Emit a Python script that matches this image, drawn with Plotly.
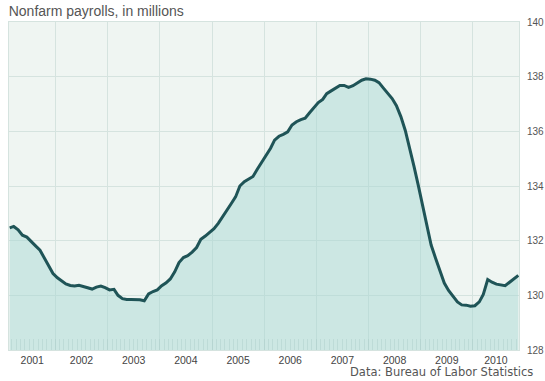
import pandas as pd
import plotly.graph_objects as go

# Nonfarm payrolls (millions), monthly, Feb 2001 - Nov 2010
payrolls = [
    132.47, 132.52, 132.40, 132.20, 132.13, 131.96, 131.81, 131.65, 131.38, 131.08, 130.80,
    130.64, 130.51, 130.42, 130.36, 130.34, 130.37, 130.32, 130.27, 130.23, 130.30, 130.34, 130.28,
    130.20, 130.22, 130.00, 129.88, 129.85, 129.85, 129.85, 129.84, 129.80, 130.05, 130.14, 130.20,
    130.35, 130.46, 130.60, 130.86, 131.20, 131.38, 131.45, 131.58, 131.75, 132.05, 132.17, 132.30,
    132.44, 132.64, 132.85, 133.12, 133.35, 133.60, 134.00, 134.16, 134.25, 134.35, 134.62, 134.86,
    135.11, 135.38, 135.68, 135.82, 135.89, 135.98, 136.23, 136.35, 136.43, 136.48, 136.68, 136.88,
    137.05, 137.17, 137.38, 137.48, 137.59, 137.68, 137.68, 137.61, 137.67, 137.77, 137.87, 137.92,
    137.91, 137.87, 137.78, 137.58, 137.40, 137.20, 136.94, 136.54, 136.03, 135.42, 134.72, 134.02,
    133.28, 132.53, 131.84, 131.36, 130.91, 130.45, 130.18, 129.99, 129.76, 129.65, 129.64, 129.60,
    129.62, 129.76, 130.03, 130.58, 130.48, 130.41, 130.38, 130.35, 130.48, 130.62, 130.73,
]
months = pd.date_range("2001-02-01", periods=len(payrolls), freq="MS") + pd.Timedelta(days=14)
years = list(range(2001, 2011))
year_labels = [str(y) for y in years]
y_ticks = [128, 130, 132, 134, 136, 138, 140]

x_start = pd.Timestamp("2001-02-10")
x_end = pd.Timestamp("2010-11-20")

# label positions: centre of visible part of each year
label_pos = []
for y in years:
    a = max(pd.Timestamp(f"{y}-01-01"), x_start)
    b = min(pd.Timestamp(f"{y+1}-01-01"), x_end)
    label_pos.append(a + (b - a) / 2)

BG = "#eff5f2"
GRID = "#d5e3df"
LINE = "#1f5457"
FILL = "rgba(165,215,211,0.47)"

fig = go.Figure()
fig.add_trace(go.Scatter(
    x=months, y=payrolls, mode="lines", fill="tozeroy", fillcolor=FILL,
    line=dict(color=LINE, width=3), hoverinfo="x+y", showlegend=False,
))
# invisible trace so the monthly tick axis is drawn
fig.add_trace(go.Scatter(
    x=months, y=payrolls, xaxis="x2", mode="lines", line=dict(width=0),
    hoverinfo="skip", showlegend=False,
))

fig.update_layout(
    width=545, height=381,
    margin=dict(l=9, r=26, t=22, b=31),
    paper_bgcolor="white", plot_bgcolor=BG,
    title=dict(text="Nonfarm payrolls, in millions", x=0.016, xanchor="left",
               y=0.972, yanchor="middle",
               font=dict(family="Liberation Sans, Arial, sans-serif", size=14, color="#555555")),
    xaxis=dict(
        type="date", range=[x_start, x_end], automargin=False,
        tickvals=label_pos, ticktext=year_labels, ticks="", showgrid=False,
        tickfont=dict(family="Liberation Sans, Arial, sans-serif", size=10.5, color="#444444"),
        minor=dict(dtick="M12", tick0="2001-01-01", showgrid=True, gridcolor=GRID, gridwidth=1, ticks=""),
        showline=True, mirror=True, linecolor=GRID, linewidth=1, zeroline=False,
    ),
    xaxis2=dict(
        type="date", range=[x_start, x_end], overlaying="x", side="bottom", automargin=False,
        dtick="M1", tick0="2001-01-01", ticks="inside", ticklen=11, tickwidth=1,
        tickcolor="rgba(170,205,200,0.45)", showticklabels=False, showgrid=False,
        showline=False, zeroline=False,
    ),
    yaxis=dict(
        range=[128, 140], tickvals=y_ticks, side="right", showgrid=True, gridcolor=GRID,
        ticks="", ticklabelstandoff=5, zeroline=False, automargin=False,
        tickfont=dict(family="Liberation Sans, Arial, sans-serif", size=10, color="#555555"),
        showline=True, mirror=True, linecolor=GRID, linewidth=1,
    ),
    annotations=[dict(
        text="Data: Bureau of Labor Statistics",
        xref="paper", yref="paper",
        x=0.664, xanchor="left", y=0, yanchor="top", yshift=-13,
        showarrow=False,
        font=dict(family="DejaVu Sans, Verdana, sans-serif", size=11.5, color="#555555"),
    )],
)

fig.write_html(
    "out.html",
    config={"displayModeBar": False},
    post_script="document.body.style.margin='0px';document.body.style.overflow='hidden';",
)
